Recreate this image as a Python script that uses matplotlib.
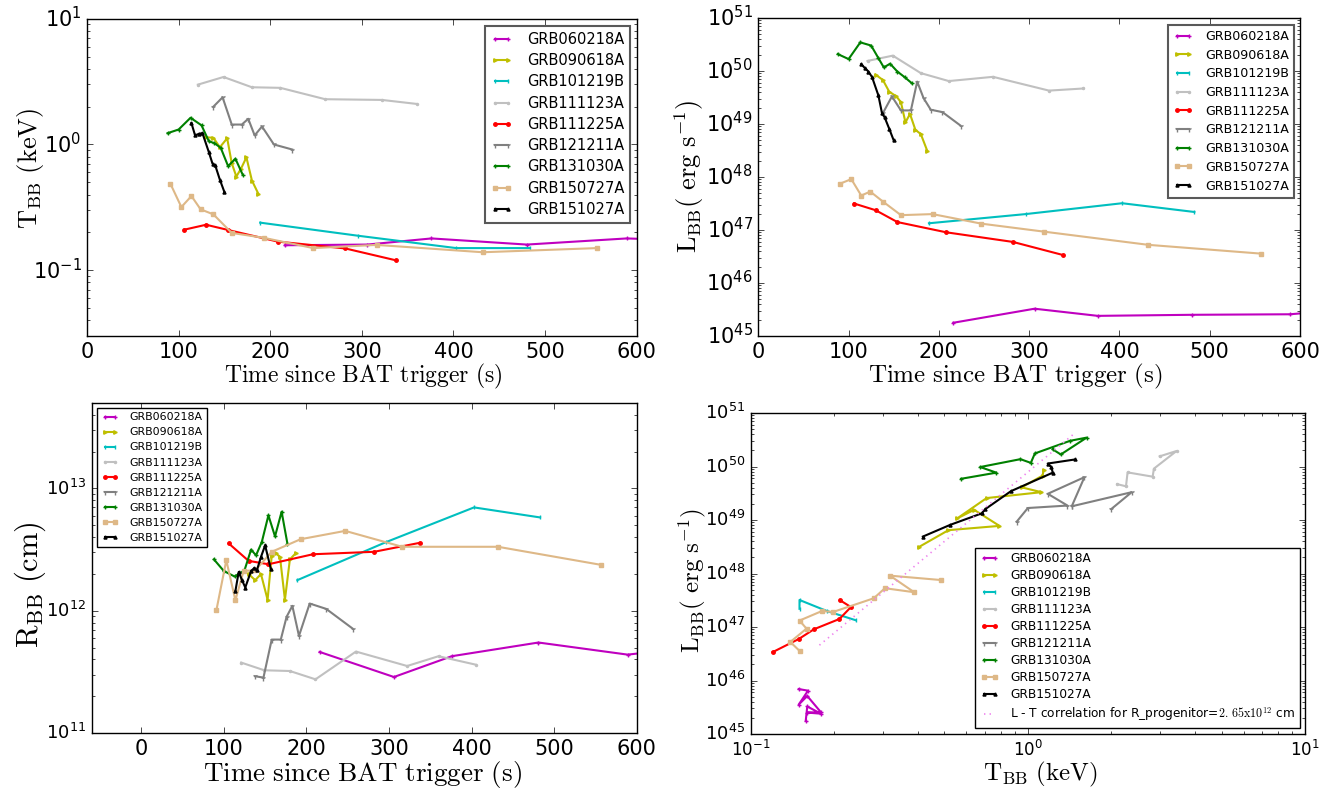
import numpy as np
import matplotlib
matplotlib.use('Agg')
import matplotlib.pyplot as plt
from matplotlib.ticker import MultipleLocator

plt.style.use('classic')
plt.rcParams.update({'figure.facecolor': 'white', 'savefig.facecolor': 'white',
                     'axes.facecolor': 'white', 'legend.numpoints': 2})

# ---------------- data (time in s, T in keV, log10 L [erg/s], log10 R [cm]) ----------------
names = ['GRB060218A', 'GRB090618A', 'GRB101219B', 'GRB111123A', 'GRB111225A',
         'GRB121211A', 'GRB131030A', 'GRB150727A', 'GRB151027A']

# GRB060218A
t_060218 = [216, 306, 376, 480, 589, 800, 1000, 1300, 1700]
T_060218 = [0.158, 0.160, 0.179, 0.160, 0.179, 0.160, 0.149, 0.161, 0.149]
logL_060218 = [45.25, 45.515, 45.38, 45.40, 45.41, 45.71, 45.55, 45.81, 45.84]
tR_060218 = [216, 306, 376, 481, 589, 800]
logR_060218 = [11.663, 11.458, 11.628, 11.74, 11.641, 11.80]

# GRB090618A
t_090618 = [130, 138, 145, 153, 158, 163, 168, 174, 180, 187]
T_090618 = [1.14, 1.13, 0.95, 1.12, 0.71, 0.556, 0.64, 0.79, 0.517, 0.406]
logL_090618 = [49.93, 49.83, 49.61, 49.52, 49.41, 49.03, 49.19, 48.89, 48.81, 48.50]
tR_090618 = t_090618
logR_090618 = [12.30, 12.25, 12.30, 12.09, 12.45, 12.47, 12.44, 12.09, 12.42, 12.47]

# GRB101219B
t_101219 = [189, 296, 403, 483]
T_101219 = [0.239, 0.188, 0.150, 0.150]
logL_101219 = [47.127, 47.30, 47.505, 47.34]
tR_101219 = t_101219
logR_101219 = [12.25, 12.56, 12.845, 12.763]

# GRB111123A
t_111123 = [121, 149, 180, 211, 260, 322, 360]
T_111123 = [2.99, 3.44, 2.85, 2.82, 2.29, 2.26, 2.10]
logL_111123 = [50.19, 50.29, 49.96, 49.81, 49.89, 49.63, 49.67]
tR_111123 = [121, 149, 180, 211, 260, 322, 360, 405]
logR_111123 = [11.576, 11.513, 11.507, 11.439, 11.666, 11.548, 11.628, 11.559]

# GRB111225A
t_111225 = [106, 130, 154, 208, 282, 337]
T_111225 = [0.210, 0.230, 0.209, 0.169, 0.149, 0.120]
logL_111225 = [47.50, 47.373, 47.15, 46.957, 46.775, 46.53]
tR_111225 = t_111225
logR_111225 = [12.55, 12.408, 12.38, 12.462, 12.482, 12.555]

# GRB121211A
t_121211 = [138, 148, 158, 169, 176, 183, 191, 204, 224]
T_121211 = [2.00, 2.37, 1.44, 1.44, 1.60, 1.18, 1.39, 1.00, 0.912]
logL_121211 = [49.205, 49.52, 49.256, 49.256, 49.80, 49.49, 49.27, 49.224, 48.97]
tR_121211 = [138, 148, 158, 169, 176, 183, 191, 204, 224, 256]
logR_121211 = [11.464, 11.453, 11.764, 11.764, 11.95, 12.04, 11.794, 12.059, 12.015, 11.854]

# GRB131030A
t_131030 = [88, 100, 113, 125, 133, 139, 146, 154, 162, 170]
T_131030 = [1.23, 1.315, 1.63, 1.42, 1.06, 1.025, 0.94, 0.673, 0.77, 0.574]
logL_131030 = [50.32, 50.225, 50.54, 50.48, 50.244, 50.068, 50.137, 49.99, 49.885, 49.77]
tR_131030 = [88, 100, 113, 125, 133, 139, 146, 154, 162, 170, 177]
logR_131030 = [12.42, 12.325, 12.28, 12.33, 12.50, 12.453, 12.562, 12.78, 12.608, 12.81, 12.549]

# GRB150727A
t_150727 = [91, 103, 114, 124, 138, 158, 193, 247, 316, 432, 557]
T_150727 = [0.488, 0.318, 0.389, 0.305, 0.278, 0.198, 0.181, 0.150, 0.159, 0.139, 0.150]
logL_150727 = [47.877, 47.96, 47.65, 47.725, 47.537, 47.28, 47.30, 47.12, 46.97, 46.72, 46.554]
tR_150727 = t_150727
logR_150727 = [12.004, 12.413, 12.086, 12.326, 12.33, 12.482, 12.585, 12.653, 12.523, 12.523, 12.375]

# GRB151027A
t_151027 = [114, 118, 122, 126, 133, 137, 140, 145, 150]
T_151027 = [1.477, 1.179, 1.215, 1.23, 0.869, 0.703, 0.681, 0.525, 0.418]
logL_151027 = [50.131, 50.055, 49.99, 49.885, 49.539, 49.205, 49.123, 48.91, 48.69]
tR_151027 = [114, 118, 122, 126, 133, 137, 140, 145, 150, 157]
logR_151027 = [12.16, 12.317, 12.25, 12.19, 12.325, 12.35, 12.33, 12.44, 12.535, 12.34]

# L - T correlation line (read end points)
corr_T = [0.177, 1.49]
logL_corr = [46.66, 50.64]
corr_label = r'L - T correlation for R_progenitor=$2.\,65\mathrm{x}10^{12}$ cm'

# ---------------- styles ----------------
colors = ['m', 'y', 'c', 'silver', 'r', 'gray', 'g', 'burlywood', 'k']
markers = ['+', '>', '|', '.', 'o', '1', '+', 's', '^']
msizes = [3, 2.5, 3.5, 3, 2.5, 4, 3, 3.5, 2.2]

series = [
    (t_060218, T_060218, logL_060218, tR_060218, logR_060218),
    (t_090618, T_090618, logL_090618, tR_090618, logR_090618),
    (t_101219, T_101219, logL_101219, tR_101219, logR_101219),
    (t_111123, T_111123, logL_111123, tR_111123, logR_111123),
    (t_111225, T_111225, logL_111225, tR_111225, logR_111225),
    (t_121211, T_121211, logL_121211, tR_121211, logR_121211),
    (t_131030, T_131030, logL_131030, tR_131030, logR_131030),
    (t_150727, T_150727, logL_150727, tR_150727, logR_150727),
    (t_151027, T_151027, logL_151027, tR_151027, logR_151027),
]

W, H = 1339, 789
fig = plt.figure(figsize=(W / 100, H / 100), dpi=100)

def rect(l, t, r, b):
    return [l / W, 1 - b / H, (r - l) / W, (b - t) / H]

axTL = fig.add_axes(rect(87, 18.7, 636.7, 336))
axTR = fig.add_axes(rect(758.3, 18, 1300, 336))
axBL = fig.add_axes(rect(91.7, 403, 636.7, 733))
axBR = fig.add_axes(rect(750.7, 413, 1305, 734))

def kw(i):
    return dict(color=colors[i], marker=markers[i], markersize=msizes[i], lw=1.5,
                markeredgecolor=colors[i], markerfacecolor=colors[i], mew=1.0,
                label=names[i])

for i, (t, T, lL, tR, lR) in enumerate(series):
    axTL.plot(t, T, **kw(i))
    axTR.plot(t, np.power(10.0, lL), **kw(i))
    axBL.plot(tR, np.power(10.0, lR), **kw(i))
    axBR.plot(T, np.power(10.0, lL), **kw(i))
axBR.plot(corr_T, np.power(10.0, logL_corr), ls=':', color='violet', lw=1.2,
          label=corr_label)

# axes setup
for ax in (axTL, axTR, axBL, axBR):
    ax.set_yscale('log')
    ax.tick_params(which='both', direction='in', top=True, right=True)

axTL.set_xlim(0, 600); axTL.set_ylim(0.03, 10)
axTR.set_xlim(0, 600); axTR.set_ylim(1e45, 1e51)
axBL.set_xlim(-60, 600); axBL.set_ylim(1e11, 5e13)
axBR.set_xscale('log'); axBR.set_xlim(0.1, 10); axBR.set_ylim(1e45, 1e51)
for ax in (axTL, axTR, axBL):
    ax.xaxis.set_major_locator(MultipleLocator(100))

axTL.tick_params(labelsize=15)
axTR.tick_params(labelsize=15)
axBL.tick_params(axis='x', labelsize=15)
axBL.tick_params(axis='y', labelsize=13)
axBR.tick_params(axis='x', labelsize=12)
axBR.tick_params(axis='y', labelsize=13)

# labels
xl = r'$\mathrm{Time\ since\ BAT\ trigger\ (s)}$'
fig.text(363 / W, 1 - 376 / H, xl, ha='center', va='center', fontsize=17)
fig.text(1015 / W, 1 - 376 / H, xl, ha='center', va='center', fontsize=18)
fig.text(363 / W, 1 - 774 / H, xl, ha='center', va='center', fontsize=19.5)
fig.text(1040 / W, 1 - 774 / H, r'$\mathrm{T_{BB}\ (keV)}$', ha='center', va='center', fontsize=18)
fig.text(31 / W, 1 - 168 / H, r'$\mathrm{T_{BB}\ (keV)}$', ha='center', va='center',
         rotation=90, fontsize=19)
fig.text(689 / W, 1 - 176 / H, r'$\mathrm{L_{BB}(\ erg\ s^{-1})}$', ha='center', va='center',
         rotation=90, fontsize=19)
fig.text(30 / W, 1 - 585 / H, r'$\mathrm{R_{BB}\ (cm)}$', ha='center', va='center',
         rotation=90, fontsize=22)
fig.text(692 / W, 1 - 580 / H, r'$\mathrm{L_{BB}(\ erg\ s^{-1})}$', ha='center', va='center',
         rotation=90, fontsize=18)

# legends
common = dict(handlelength=1.5, handletextpad=1.0, borderaxespad=0.0, fancybox=False)
lg = axTL.legend(loc='upper right', bbox_to_anchor=(630 / W, 1 - 26 / H),
                 bbox_transform=fig.transFigure, fontsize=10.5, labelspacing=0.43, **common)
lg.get_frame().set_edgecolor('0.35'); lg.get_frame().set_linewidth(1.5)
lg = axTR.legend(loc='upper right', bbox_to_anchor=(1294 / W, 1 - 25 / H),
                 bbox_transform=fig.transFigure, fontsize=9.1, labelspacing=0.45, **common)
lg.get_frame().set_edgecolor('0.35'); lg.get_frame().set_linewidth(1.5)
axBL.legend(loc='upper left', bbox_to_anchor=(97.4 / W, 1 - 408 / H),
            bbox_transform=fig.transFigure, fontsize=7.9, labelspacing=0.46, **common)
axBR.legend(loc='lower right', bbox_to_anchor=(1300 / W, 1 - 728 / H),
            bbox_transform=fig.transFigure, fontsize=8.7, labelspacing=0.33, **common)

fig.savefig('out.png', dpi=100)
